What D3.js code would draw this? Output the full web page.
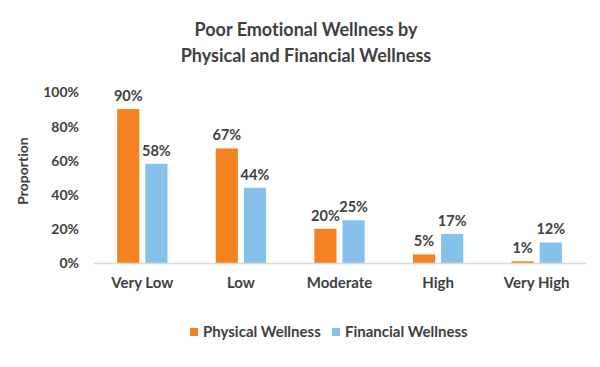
<!DOCTYPE html>
<html>
<head>
<meta charset="utf-8">
<script src="https://cdn.jsdelivr.net/npm/d3@7"></script>
<style>
  body { margin: 0; background: #fff; }
  text { font-family: Lato, "Open Sans", sans-serif; font-weight: bold; fill: #404040; font-variant-ligatures: none; }
</style>
</head>
<body>
<div id="chart"></div>
<script>
// Dimensions
const width = 600;
const height = 367;

// Data
const categories = ['Very Low', 'Low', 'Moderate', 'High', 'Very High'];
const seriesNames = ['Physical Wellness', 'Financial Wellness'];
const physicalValues = [90, 67, 20, 5, 1];
const financialValues = [58, 44, 25, 17, 12];
const yTicks = [0, 20, 40, 60, 80, 100];
const titleLines = ['Poor Emotional Wellness by', 'Physical and Financial Wellness'];

const colours = ['#F58220', '#85C1EA'];

const table = categories.map((c, i) => ({
    category: c,
    values: [physicalValues[i], financialValues[i]]
}));

const svg = d3.select('#chart').append('svg')
    .attr('width', width)
    .attr('height', height);

// Title
svg.append('g').selectAll('text')
    .data(titleLines)
    .enter()
    .append('text')
    .attr('x', 306)
    .attr('y', (d, i) => 36 + i * 26)
    .attr('text-anchor', 'middle')
    .style('font-size', '18px')
    .text(d => d);

// Scales
const x0 = d3.scaleBand()
    .domain(categories)
    .range([93, 586])
    .paddingInner(0.49)
    .paddingOuter(0.245);

const x1 = d3.scaleBand()
    .domain([0, 1])
    .range([0, x0.bandwidth()])
    .paddingInner(0.214);

const y = d3.scaleLinear()
    .domain([0, 100])
    .range([263, 92]);

// Y axis labels (no axis line)
const yAxis = d3.axisLeft(y)
    .tickValues(yTicks)
    .tickSize(0)
    .tickPadding(0)
    .tickFormat(d => `${d}%`);

const yg = svg.append('g')
    .attr('transform', 'translate(79,0)')
    .call(yAxis);
yg.select('.domain').remove();
yg.selectAll('text')
    .style('font-size', '14px')
    .style('font-family', null)
    .attr('dy', '0.35em');

// Y axis title
svg.append('text')
    .attr('transform', 'translate(28,171) rotate(-90)')
    .attr('text-anchor', 'middle')
    .style('font-size', '14px')
    .text('Proportion');

// Bars
const groups = svg.append('g').selectAll('g')
    .data(table)
    .enter()
    .append('g')
    .attr('transform', d => `translate(${x0(d.category)},0)`);

groups.selectAll('rect')
    .data(d => d.values)
    .enter()
    .append('rect')
    .attr('x', (d, i) => x1(i))
    .attr('y', d => y(d))
    .attr('width', x1.bandwidth())
    .attr('height', d => y(0) - y(d))
    .attr('fill', (d, i) => colours[i]);

groups.selectAll('text')
    .data(d => d.values)
    .enter()
    .append('text')
    .attr('x', (d, i) => x1(i) + x1.bandwidth() / 2)
    .attr('y', d => y(d) - 8)
    .attr('text-anchor', 'middle')
    .style('font-size', '14.5px')
    .text(d => `${d}%`);

// X axis
const xAxis = d3.axisBottom(x0)
    .tickSize(0)
    .tickPadding(14);

const xg = svg.append('g')
    .attr('transform', `translate(0,${y(0)})`)
    .call(xAxis);
xg.select('.domain')
    .attr('stroke', '#D9D9D9')
    .attr('stroke-width', 1.5);
xg.selectAll('text')
    .style('font-size', '15px')
    .style('font-family', null);

// Legend
const legendItems = [
    { name: seriesNames[0], colour: colours[0], x: 190 },
    { name: seriesNames[1], colour: colours[1], x: 332 }
];
const legend = svg.append('g').selectAll('g')
    .data(legendItems)
    .enter()
    .append('g')
    .attr('transform', d => `translate(${d.x},328)`);
legend.append('rect')
    .attr('width', 8)
    .attr('height', 8)
    .attr('fill', d => d.colour);
legend.append('text')
    .attr('x', 13)
    .attr('y', 4)
    .attr('dy', '0.35em')
    .style('font-size', '15px')
    .text(d => d.name);
</script>
</body>
</html>
